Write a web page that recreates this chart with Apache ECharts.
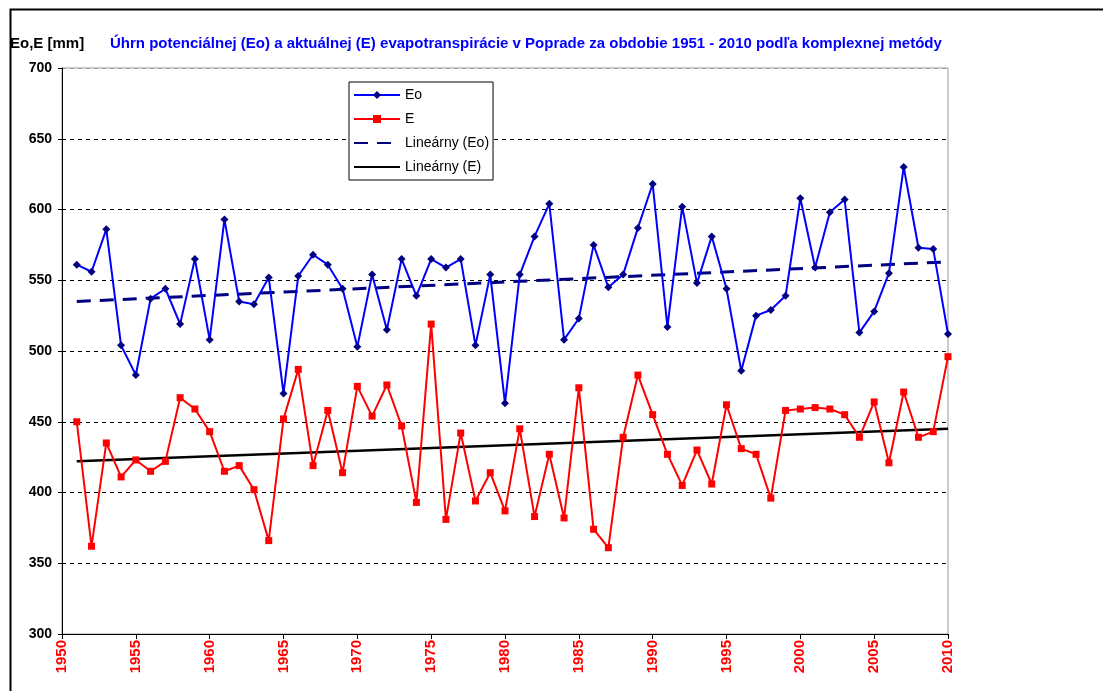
<!DOCTYPE html>
<html>
<head>
<meta charset="utf-8">
<script src="https://cdn.jsdelivr.net/npm/echarts@6/dist/echarts.min.js"></script>
<style>
  html,body{margin:0;padding:0;background:#fff;}
  #chart{width:1103px;height:691px;}
</style>
</head>
<body>
<div id="chart"></div>
<script>
// roky merania
const years = [1951,1952,1953,1954,1955,1956,1957,1958,1959,1960,
  1961,1962,1963,1964,1965,1966,1967,1968,1969,1970,
  1971,1972,1973,1974,1975,1976,1977,1978,1979,1980,
  1981,1982,1983,1984,1985,1986,1987,1988,1989,1990,
  1991,1992,1993,1994,1995,1996,1997,1998,1999,2000,
  2001,2002,2003,2004,2005,2006,2007,2008,2009,2010];
// potencialna evapotranspiracia Eo [mm]
const eoValues = [561,556,586,504,483,537,544,519,565,508,
  593,535,533,552,470,553,568,561,544,503,
  554,515,565,539,565,559,565,504,554,463,
  554,581,604,508,523,575,545,554,587,618,
  517,602,548,581,544,486,525,529,539,608,
  559,598,607,513,528,555,630,573,572,512];
// aktualna evapotranspiracia E [mm]
const eValues = [450,362,435,411,423,415,422,467,459,443,
  415,419,402,366,452,487,419,458,414,475,
  454,476,447,393,519,381,442,394,414,387,
  445,383,427,382,474,374,361,439,483,455,
  427,405,430,406,462,431,427,396,458,459,
  460,459,455,439,464,421,471,439,443,496];
// linearne trendy (koncove body odcitane z grafu)
const trendYears = [1951, 2010];
const trendEo = [535, 563];
const trendE = [422, 445];
const xTicks = [1950,1955,1960,1965,1970,1975,1980,1985,1990,1995,2000,2005,2010];

const font = 'Liberation Sans';
const pairs = (xs, ys) => xs.map((x, i) => [x, ys[i]]);
// v legende bez znacky pre trendove ciary
const noMarker = { color: 'rgba(0,0,0,0)', borderColor: 'rgba(0,0,0,0)', borderWidth: 0 };

const myChart = echarts.init(document.getElementById('chart'));
const option = {
  animation: false,
  backgroundColor: '#fff',
  textStyle: { fontFamily: font },
  title: [
    {
      text: 'Eo,E [mm]', left: 10, top: 36, padding: 0,
      textStyle: { fontFamily: font, fontSize: 15, fontWeight: 'bold', color: '#000' }
    },
    {
      text: 'Úhrn potenciálnej (Eo) a aktuálnej (E) evapotranspirácie v Poprade za obdobie 1951 - 2010 podľa komplexnej metódy',
      left: 110, top: 36, padding: 0,
      textStyle: { fontFamily: font, fontSize: 15, fontWeight: 'bold', color: '#0000ff' }
    }
  ],
  graphic: [
    {
      type: 'rect', left: 8, top: 7, z: -1,
      shape: { width: 1200, height: 800 },
      style: { fill: 'none', stroke: '#000', lineWidth: 2 }
    }
  ],
  legend: {
    orient: 'vertical', left: 349, top: 82,
    backgroundColor: '#fff', borderColor: '#000', borderWidth: 1,
    padding: [6, 4, 6, 4], itemGap: 10, itemWidth: 46, itemHeight: 10,
    textStyle: { fontFamily: font, fontSize: 14, color: '#000' },
    data: [
      'Eo',
      'E',
      { name: 'Lineárny (Eo)', itemStyle: noMarker },
      { name: 'Lineárny (E)', itemStyle: noMarker }
    ]
  },
  grid: {
    left: 62, right: 155, top: 68, bottom: 57,
    show: true, borderColor: '#999', borderWidth: 1
  },
  xAxis: {
    type: 'value', min: 1950, max: 2010, interval: 5,
    axisLine: { lineStyle: { color: '#000', width: 1 } },
    axisTick: { show: true, length: 5, lineStyle: { color: '#000' } },
    splitLine: { show: false },
    axisLabel: {
      rotate: 90, color: '#ff0000', fontWeight: 'bold', fontSize: 15,
      fontFamily: font, margin: 6,
      formatter: v => xTicks.includes(v) ? String(v) : ''
    }
  },
  yAxis: {
    type: 'value', min: 300, max: 700, interval: 50,
    axisLine: { show: true, lineStyle: { color: '#000', width: 1 } },
    axisTick: { show: true, length: 4, lineStyle: { color: '#000' } },
    axisLabel: { color: '#000', fontWeight: 'bold', fontSize: 14, fontFamily: font, margin: 10 },
    splitLine: {
      show: true,
      lineStyle: {
        color: ['#000', '#000', '#000', '#000', '#000', '#000', '#000', '#000', '#999'],
        type: [4, 4], width: 1
      }
    }
  },
  series: [
    {
      name: 'Eo', type: 'line', data: pairs(years, eoValues),
      symbol: 'diamond', symbolSize: 8,
      lineStyle: { color: '#0000ff', width: 2 },
      itemStyle: { color: '#000080' },
      z: 4
    },
    {
      name: 'E', type: 'line', data: pairs(years, eValues),
      symbol: 'rect', symbolSize: 7,
      lineStyle: { color: '#ff0000', width: 2 },
      itemStyle: { color: '#ff0000' },
      z: 4
    },
    {
      name: 'Lineárny (Eo)', type: 'line', data: pairs(trendYears, trendEo),
      symbol: 'none',
      lineStyle: { color: '#000080', width: 3, type: [14, 9] },
      itemStyle: { color: '#000080' },
      z: 3
    },
    {
      name: 'Lineárny (E)', type: 'line', data: pairs(trendYears, trendE),
      symbol: 'none',
      lineStyle: { color: '#000', width: 2.5 },
      itemStyle: { color: '#000' },
      z: 3
    }
  ]
};
myChart.setOption(option);
</script>
</body>
</html>
